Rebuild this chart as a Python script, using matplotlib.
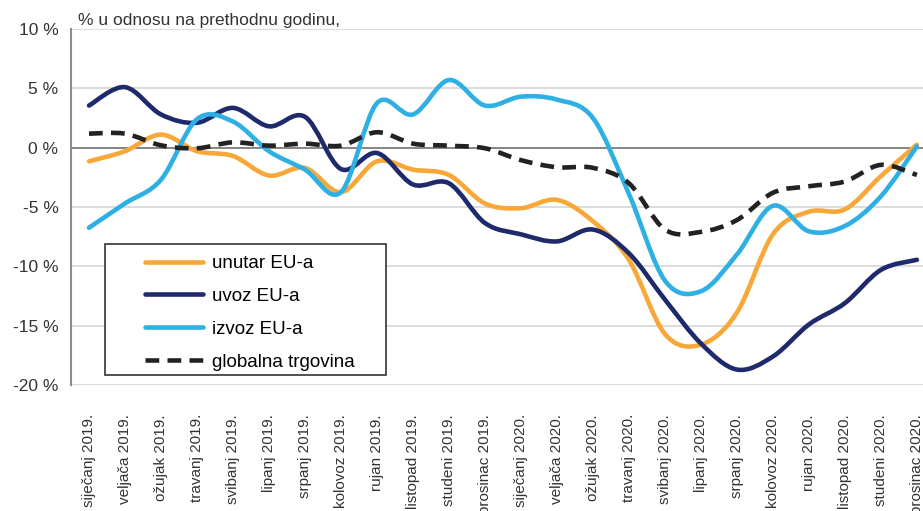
import matplotlib
matplotlib.use('Agg')
import matplotlib.pyplot as plt
from matplotlib.path import Path
from matplotlib.patches import PathPatch, Rectangle
from matplotlib.lines import Line2D

plt.rcParams['font.family'] = ['Liberation Sans', 'DejaVu Sans']

# mjeseci i oznake osi x
months = ['siječanj', 'veljača', 'ožujak', 'travanj', 'svibanj', 'lipanj',
          'srpanj', 'kolovoz', 'rujan', 'listopad', 'studeni', 'prosinac']
labels = [m + ' 2019.' for m in months] + [m + ' 2020.' for m in months]

# % u odnosu na prethodnu godinu (očitano sa slike)
unutar = [-1.15, -0.3, 1.1, -0.3, -0.7, -2.35, -1.7, -3.75, -1.15, -1.85, -2.3, -4.7,
          -5.1, -4.4, -6.2, -9.45, -15.7, -16.6, -13.9, -7.3, -5.4, -5.2, -2.4, 0.25]
uvoz = [3.55, 5.1, 2.8, 2.1, 3.35, 1.8, 2.6, -1.8, -0.45, -3.1, -3.0, -6.35,
        -7.3, -7.9, -6.9, -8.9, -12.8, -16.5, -18.7, -17.6, -14.9, -13.1, -10.3, -9.45]
izvoz = [-6.75, -4.7, -2.7, 2.4, 2.2, -0.3, -1.85, -3.75, 3.75, 2.8, 5.7, 3.55,
         4.3, 4.05, 2.5, -3.9, -11.2, -12.1, -9.0, -4.9, -7.05, -6.6, -4.1, 0.1]
globalna = [1.18, 1.18, 0.2, -0.05, 0.45, 0.17, 0.34, 0.17, 1.3, 0.34, 0.17, -0.05,
            -1.05, -1.65, -1.7, -3.0, -6.9, -7.1, -6.1, -3.8, -3.25, -2.85, -1.45, -2.3]

series = [
    ('unutar EU-a', unutar, '#F7A839', '-'),
    ('uvoz EU-a', uvoz, '#1F2A6C', '-'),
    ('izvoz EU-a', izvoz, '#2EB0E4', '-'),
    ('globalna trgovina', globalna, '#222222', (0, (3, 1.8))),
]


def smooth_path(xs, ys):
    # glatka linija kao u Excelu (Catmull-Rom -> Bezier)
    pts = list(zip(xs, ys))
    n = len(pts)
    verts = [pts[0]]
    codes = [Path.MOVETO]
    for i in range(n - 1):
        p0 = pts[max(i - 1, 0)]
        p1 = pts[i]
        p2 = pts[i + 1]
        p3 = pts[min(i + 2, n - 1)]
        c1 = (p1[0] + (p2[0] - p0[0]) / 6, p1[1] + (p2[1] - p0[1]) / 6)
        c2 = (p2[0] - (p3[0] - p1[0]) / 6, p2[1] - (p3[1] - p1[1]) / 6)
        verts += [c1, c2, p2]
        codes += [Path.CURVE4] * 3
    return Path(verts, codes)


W, H = 923, 511
fig = plt.figure(figsize=(W / 100, H / 100), dpi=100)
ax = fig.add_axes([71 / W, 1 - 385 / H, (W - 71) / W, (385 - 29) / H])

x = list(range(len(labels)))
lw = 3.3
handles = []
for name, vals, col, ls in series:
    cap = 'butt' if ls != '-' else 'round'
    p = PathPatch(smooth_path(x, vals), fill=False, edgecolor=col, lw=lw,
                  linestyle=ls, capstyle=cap, joinstyle='round', zorder=3)
    ax.add_patch(p)
    handles.append(Line2D([], [], color=col, lw=lw, linestyle=ls,
                          solid_capstyle='round', dash_capstyle='butt'))

ax.set_xlim(-0.5, 23.17)
ax.set_ylim(-20, 10)

yt = [10, 5, 0, -5, -10, -15, -20]
ax.set_yticks(yt)
ax.set_yticklabels([f'{v} %' for v in yt], fontsize=12.5, color='#333333')
ax.yaxis.grid(True, color='#d9d9d9', lw=1.3)
ax.axhline(0, color='#808080', lw=1.3, zorder=2)
ax.set_axisbelow(True)

ax.set_xticks(x)
ax.set_xticklabels(labels, rotation=90, fontsize=11, color='#333333',
                   va='top', ha='center')
ax.tick_params(axis='x', length=0, pad=21)
ax.tick_params(axis='y', length=0, pad=9)

for s in ['top', 'right', 'bottom']:
    ax.spines[s].set_visible(False)
ax.spines['left'].set_color('#8c8c8c')
ax.spines['left'].set_linewidth(1.5)

fig.text(78 / W, 1 - 21 / H, '% u odnosu na prethodnu godinu,', fontsize=12.5,
         va='center', ha='left', color='#333333')

# okvir legende
ax.add_patch(Rectangle((105 / W, 1 - 375 / H), (386 - 105) / W, (375 - 244) / H,
                       transform=fig.transFigure, facecolor='white',
                       edgecolor='#333333', lw=1.2, zorder=4, clip_on=False))
ax.legend(handles, [s[0] for s in series], loc='upper left',
          bbox_to_anchor=(145 / W, 1 - 255 / H), bbox_transform=fig.transFigure,
          frameon=False, fontsize=13.5, handlelength=3.1, handletextpad=0.45,
          labelspacing=0.84, borderpad=0, borderaxespad=0)

fig.savefig('out.png', dpi=100)
